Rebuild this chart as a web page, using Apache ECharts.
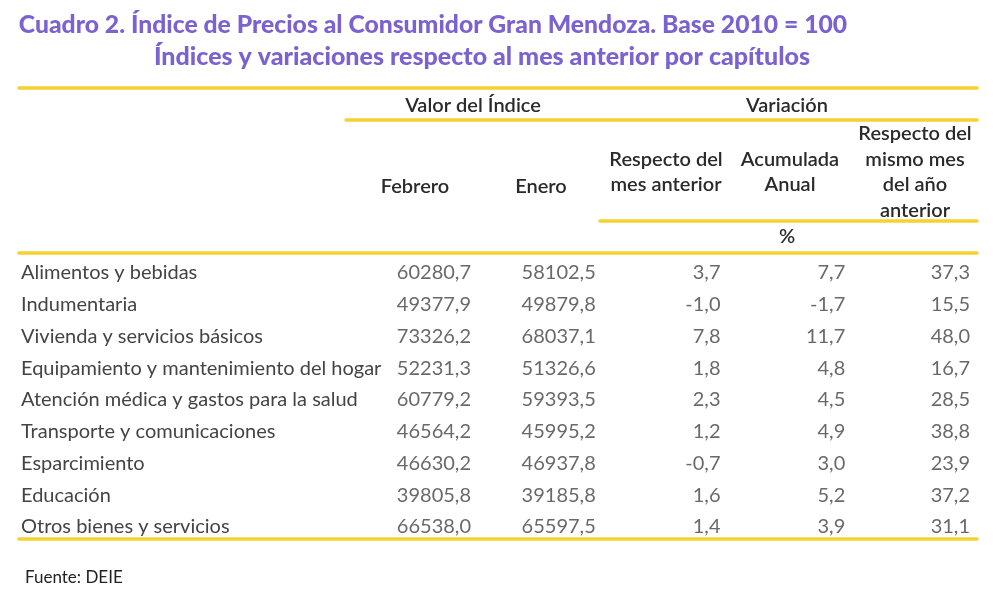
<!DOCTYPE html>
<html>
<head>
<meta charset="utf-8">
<script src="https://cdn.jsdelivr.net/npm/echarts@6/dist/echarts.min.js"></script>
<style>
  html, body { margin: 0; padding: 0; background: #fff; }
  #main { width: 1000px; height: 597px; }
</style>
</head>
<body>
<div id="main"></div>
<script>
// capítulos del IPC (filas)
const capitulos = [
  'Alimentos y bebidas',
  'Indumentaria',
  'Vivienda y servicios básicos',
  'Equipamiento y mantenimiento del hogar',
  'Atención médica y gastos para la salud',
  'Transporte y comunicaciones',
  'Esparcimiento',
  'Educación',
  'Otros bienes y servicios'
]
// columnas de la tabla
const columnas = ['febrero', 'enero', 'varMensual', 'varAcumulada', 'varInteranual']

const febrero = [60280.7, 49377.9, 73326.2, 52231.3, 60779.2, 46564.2, 46630.2, 39805.8, 66538.0]
const enero = [58102.5, 49879.8, 68037.1, 51326.6, 59393.5, 45995.2, 46937.8, 39185.8, 65597.5]
const varMensual = [3.7, -1.0, 7.8, 1.8, 2.3, 1.2, -0.7, 1.6, 1.4]
const varAcumulada = [7.7, -1.7, 11.7, 4.8, 4.5, 4.9, 3.0, 5.2, 3.9]
const varInteranual = [37.3, 15.5, 48.0, 16.7, 28.5, 38.8, 23.9, 37.2, 31.1]

const valores = [febrero, enero, varMensual, varAcumulada, varInteranual]

const TEXT = '#444444'
const YELLOW = '#F5D132'
const PURPLE = '#7B62D0'
const FONT = 'Lato, "Noto Sans", sans-serif'

const fmt = v => v.toFixed(1).replace('.', ',')

const chart = echarts.init(document.getElementById('main'), null, { renderer: 'canvas' })

// linea amarilla
const linea = (x1, x2, y) => ({
  type: 'line',
  silent: true,
  shape: { x1: x1, y1: y, x2: x2, y2: y },
  style: { stroke: YELLOW, lineWidth: 3.5, lineCap: 'round' }
})
// texto de encabezado
const texto = (x, y, t, opts) => ({
  type: 'text',
  silent: true,
  x: x,
  y: y,
  style: Object.assign({
    text: t,
    fill: '#2a2a2a',
    font: '600 20px ' + FONT,
    align: 'center',
    verticalAlign: 'middle',
    lineHeight: 25.7
  }, opts || {})
})

const option = {
  animation: false,
  backgroundColor: '#fff',
  grid: {
    left: 471,
    right: 30,
    top: 273,
    bottom: 70,
    outerBoundsMode: 'none'
  },
  xAxis: {
    type: 'category',
    boundaryGap: false,
    data: columnas,
    show: false
  },
  yAxis: {
    type: 'category',
    inverse: true,
    boundaryGap: false,
    data: capitulos,
    axisLine: { show: false },
    axisTick: { show: false },
    splitLine: { show: false },
    axisLabel: {
      interval: 0,
      align: 'left',
      margin: 450,
      color: TEXT,
      fontSize: 20,
      fontFamily: FONT
    }
  },
  series: columnas.map((col, c) => ({
    type: 'scatter',
    name: col,
    symbolSize: 0,
    silent: true,
    data: valores[c].map((v, i) => [col, capitulos[i], v]),
    label: {
      show: true,
      position: 'inside',
      align: 'right',
      verticalAlign: 'middle',
      color: TEXT,
      fontSize: 20,
      fontFamily: FONT,
      formatter: p => fmt(p.value[2])
    }
  })),
  graphic: [
    texto(433, 25, 'Cuadro 2. Índice de Precios al Consumidor Gran Mendoza. Base 2010 = 100',
      { fill: PURPLE, font: '900 24.7px ' + FONT }),
    texto(482, 57, 'Índices y variaciones respecto al mes anterior por capítulos',
      { fill: PURPLE, font: '900 25px ' + FONT }),
    linea(19, 977, 88),
    texto(473, 106, 'Valor del Índice'),
    texto(787, 106, 'Variación'),
    linea(346, 977, 120),
    texto(415, 187, 'Febrero'),
    texto(541, 187, 'Enero'),
    texto(666, 172, 'Respecto del\nmes anterior'),
    texto(790, 172, 'Acumulada\nAnual'),
    texto(915, 172, 'Respecto del\nmismo mes\ndel año\nanterior'),
    linea(600, 977, 221),
    texto(787, 237, '%'),
    linea(19, 977, 253),
    linea(19, 977, 539),
    texto(25, 578, 'Fuente: DEIE', { align: 'left', font: '17px ' + FONT, fill: '#222' })
  ]
}

chart.setOption(option)
</script>
</body>
</html>
